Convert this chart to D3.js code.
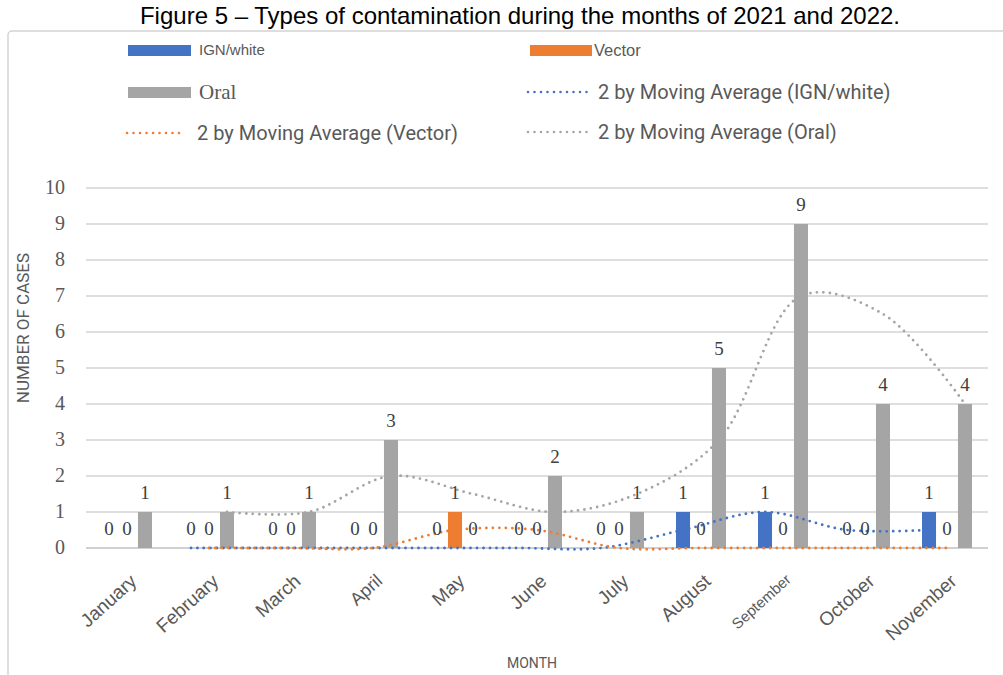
<!DOCTYPE html>
<html>
<head>
<meta charset="utf-8">
<script src="https://cdn.jsdelivr.net/npm/d3@7.9.0/dist/d3.min.js"></script>
<style>
  body { margin: 0; background: #fff; }
  svg { display: block; }
</style>
</head>
<body>
<svg id="chart" width="1003" height="675"></svg>
<script>
// data
const months = ['January', 'February', 'March', 'April', 'May', 'June', 'July', 'August', 'September', 'October', 'November'];
const seriesNames = ['IGN/white', 'Vector', 'Oral'];
const ignWhite = [0, 0, 0, 0, 0, 0, 0, 1, 1, 0, 1];
const vector = [0, 0, 0, 0, 1, 0, 0, 0, 0, 0, 0];
const oral = [1, 1, 1, 3, 0, 2, 1, 5, 9, 4, 4];
const yTicks = [0, 1, 2, 3, 4, 5, 6, 7, 8, 9, 10];
const colors = ['#4472C4', '#ED7D31', '#A5A5A5'];

const values = [ignWhite, vector, oral];

// 2-period moving average, starts at the second month
function movingAvg(arr) {
    return arr.map((v, i) => i === 0 ? null : (arr[i - 1] + v) / 2);
}

const svg = d3.select('#chart');

// frame + title
svg.append('rect')
    .attr('x', 8).attr('y', 31)
    .attr('width', 1010).attr('height', 690)
    .attr('rx', 4)
    .attr('fill', 'none')
    .attr('stroke', '#d4d4d4')
    .attr('stroke-width', 1.5);

svg.append('text')
    .attr('x', 520).attr('y', 24)
    .attr('text-anchor', 'middle')
    .style('font-family', 'Liberation Sans, Arial, sans-serif')
    .style('font-size', '24px')
    .attr('fill', '#000')
    .text('Figure 5 \u2013 Types of contamination during the months of 2021 and 2022.');

// scales
const x = d3.scaleBand().domain(months).range([86, 988]);
const xs = d3.scaleBand().domain(seriesNames).range([0, x.bandwidth()])
    .paddingInner(0.22).paddingOuter(0.89);
const y = d3.scaleLinear().domain([0, 10]).range([548, 188]);

// grid
svg.append('g')
    .selectAll('line')
    .data(yTicks)
    .join('line')
    .attr('x1', 86).attr('x2', 988)
    .attr('y1', d => y(d)).attr('y2', d => y(d))
    .attr('stroke', d => d === 0 ? '#d0d0d0' : '#dedede')
    .attr('stroke-width', 2);

// y tick labels
svg.append('g')
    .selectAll('text')
    .data(yTicks)
    .join('text')
    .attr('x', 65).attr('y', d => y(d) + 6)
    .attr('text-anchor', 'end')
    .style('font-family', 'Liberation Serif, serif')
    .style('font-size', '20px')
    .attr('fill', '#595959')
    .text(d => d);

svg.append('text')
    .attr('transform', 'translate(29,328) rotate(-90)')
    .attr('text-anchor', 'middle')
    .style('font-family', 'Roboto, sans-serif')
    .style('font-size', '17px')
    .attr('fill', '#595959')
    .text('NUMBER OF CASES');

// x tick labels
const tickSize = { April: '18px', September: '15px' };
svg.append('g')
    .selectAll('text')
    .data(months)
    .join('text')
    .attr('transform', d => `translate(${x(d) + x.bandwidth() / 2 + 2},573) rotate(-42)`)
    .attr('text-anchor', 'end')
    .attr('dy', '0.7em')
    .style('font-family', 'Liberation Sans, Arial, sans-serif')
    .style('font-size', d => tickSize[d] || '19px')
    .attr('fill', '#595959')
    .text(d => d);

svg.append('text')
    .attr('x', 532).attr('y', 668)
    .attr('text-anchor', 'middle')
    .style('font-family', 'Roboto, sans-serif')
    .style('font-size', '14px')
    .attr('fill', '#595959')
    .text('MONTH');

// bars
const barData = [];
seriesNames.forEach((s, si) => {
    months.forEach((m, mi) => barData.push({ s, si, m, v: values[si][mi] }));
});

svg.append('g')
    .selectAll('rect')
    .data(barData)
    .join('rect')
    .attr('x', d => x(d.m) + xs(d.s))
    .attr('width', xs.bandwidth())
    .attr('y', d => y(d.v))
    .attr('height', d => y(0) - y(d.v))
    .attr('fill', d => colors[d.si]);

// moving average lines, each one over its own bar position
const line = d3.line()
    .defined(d => d.v !== null)
    .x(d => d.x)
    .y(d => y(d.v))
    .curve(d3.curveCatmullRom.alpha(0.5));

seriesNames.forEach((s, si) => {
    const ma = movingAvg(values[si]).map((v, i) => ({ v, x: x(months[i]) + xs(s) + xs.bandwidth() / 2 }));
    svg.append('path')
        .datum(ma)
        .attr('d', line)
        .attr('fill', 'none')
        .attr('stroke', colors[si])
        .attr('stroke-width', 2.8)
        .attr('stroke-linecap', 'round')
        .attr('stroke-dasharray', '0 6.5');
});

// data labels
svg.append('g')
    .selectAll('text')
    .data(barData)
    .join('text')
    .attr('x', d => x(d.m) + xs(d.s) + xs.bandwidth() / 2)
    .attr('y', d => y(d.v) - 13)
    .attr('text-anchor', 'middle')
    .style('font-family', 'Liberation Serif, serif')
    .style('font-size', '19px')
    .attr('fill', '#404040')
    .text(d => d.v);

// legend
const legend = svg.append('g');
const legendItems = [
    { label: 'IGN/white', kind: 'bar', c: colors[0], x: 128, y: 50, w: 63, tx: 199, font: 'Liberation Sans, Arial, sans-serif', size: '15px' },
    { label: 'Vector', kind: 'bar', c: colors[1], x: 530, y: 50, w: 62, tx: 594, font: 'Liberation Sans, Arial, sans-serif', size: '16.5px' },
    { label: 'Oral', kind: 'bar', c: colors[2], x: 128, y: 92, w: 63, tx: 199, font: 'Liberation Serif, serif', size: '21px' },
    { label: '2 by Moving Average (IGN/white)', kind: 'line', c: colors[0], x: 528, y: 92, w: 62, tx: 598, font: 'Roboto, sans-serif', size: '20px' },
    { label: '2 by Moving Average (Vector)', kind: 'line', c: colors[1], x: 127, y: 133, w: 55, tx: 197, font: 'Roboto, sans-serif', size: '20px' },
    { label: '2 by Moving Average (Oral)', kind: 'line', c: colors[2], x: 528, y: 132, w: 62, tx: 598, font: 'Roboto, sans-serif', size: '20px' }
];

legendItems.forEach(d => {
    if (d.kind === 'bar') {
        legend.append('rect')
            .attr('x', d.x).attr('y', d.y - 5)
            .attr('width', d.w).attr('height', 11)
            .attr('fill', d.c);
    } else {
        legend.append('line')
            .attr('x1', d.x).attr('x2', d.x + d.w)
            .attr('y1', d.y).attr('y2', d.y)
            .attr('stroke', d.c)
            .attr('stroke-width', 2.6)
            .attr('stroke-linecap', 'round')
            .attr('stroke-dasharray', '0 6.5');
    }
    legend.append('text')
        .attr('x', d.tx).attr('y', d.y)
        .attr('dy', '0.35em')
        .style('font-family', d.font)
        .style('font-size', d.size)
        .attr('fill', '#595959')
        .text(d.label);
});
</script>
</body>
</html>
